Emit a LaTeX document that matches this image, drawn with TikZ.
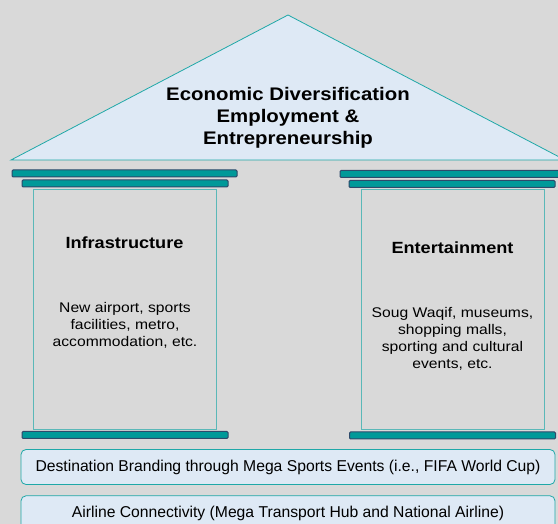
\documentclass[tikz,border=0pt]{standalone}
\usepackage{fontspec}
\setmainfont{Liberation Sans}
\newfontfamily\widesans[FakeStretch=1.12]{Liberation Sans}
\usepackage{xcolor}
\usetikzlibrary{positioning}
\definecolor{bgGray}{HTML}{D9D9D9}
\definecolor{roofFill}{HTML}{DEE9F5}
\definecolor{roofLine}{HTML}{1FA8A8}
\definecolor{capFill}{HTML}{009999}
\definecolor{capLine}{HTML}{2E4A6B}
\definecolor{colLine}{HTML}{5AB8B8}

\begin{document}
\begin{tikzpicture}[
  x=1pt, y=-1pt,
  roof/.style={draw=roofLine, fill=roofFill, line width=0.8pt},
  capbar/.style={rectangle, draw=capLine, fill=capFill, rounded corners=1.2pt, line width=1pt, minimum height=7pt, inner sep=0pt},
  pillar/.style={rectangle, draw=colLine, line width=0.9pt, minimum width=183pt, minimum height=240pt, inner sep=0pt},
  band/.style={rectangle, draw=roofLine, fill=roofFill, rounded corners=5pt, line width=0.8pt, minimum width=534pt, minimum height=35pt, font=\fontsize{15.7}{18}\selectfont},
  title/.style={align=center, font=\widesans\bfseries\fontsize{18.2}{22}\selectfont},
  label/.style={font=\widesans\bfseries\fontsize{16.2}{19}\selectfont},
  desc/.style={align=center, font=\widesans\fontsize{14}{17}\selectfont}
]
  \useasboundingbox (0,0) rectangle (558,524);
  \fill[bgGray] (0,0) rectangle (558,524);
  \clip (0,0) rectangle (558,524);

  % roof
  \draw[roof] (11,160) -- (288,15) -- (565,160) -- cycle;
  \node[title] (goal) at (288,117.5) {Economic Diversification\\Employment \&\\Entrepreneurship};

  % left pillar
  \node[capbar, minimum width=225pt] (lcapA) at (124.5,173.5) {};
  \node[capbar, minimum width=206pt] (lcapB) at (125,183.5) {};
  \node[pillar] (infra) at (124.5,309.5) {};
  \node[capbar, minimum width=206pt] (lbase) at (125,435) {};
  \node[label] (infraT) at (124.5,243) {Infrastructure};
  \node[desc] (infraD) at (125,325) {New airport, sports\\facilities, metro,\\accommodation, etc.};

  % right pillar
  \node[capbar, minimum width=225pt] (rcapA) at (452.5,174) {};
  \node[capbar, minimum width=206pt] (rcapB) at (452,184) {};
  \node[pillar] (enter) at (452.5,309.5) {};
  \node[capbar, minimum width=206pt] (rbase) at (452.5,435.5) {};
  \node[label] (enterT) at (452.5,247.5) {Entertainment};
  \node[desc] (enterD) at (452.5,338.5) {Soug Waqif, museums,\\shopping malls,\\sporting and cultural\\events, etc.};

  % foundations
  \node[band] (brand) at (288,467) {Destination Branding through Mega Sports Events (i.e., FIFA World Cup)};
  \node[band, below=10.5pt of brand.south, anchor=north] (hub) {Airline Connectivity (Mega Transport Hub and National Airline)};
\end{tikzpicture}
\end{document}
